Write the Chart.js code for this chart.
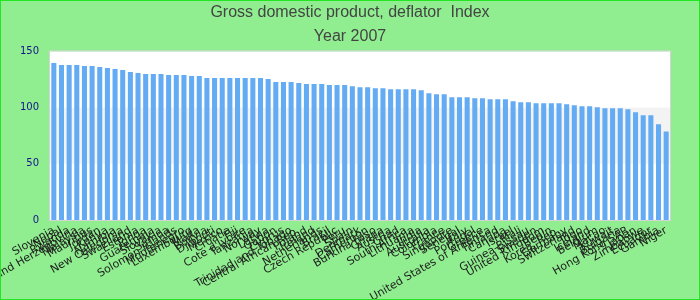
<!DOCTYPE html>
<html>
<head>
<meta charset="utf-8">
<script src="https://cdn.jsdelivr.net/npm/chart.js@4.4.1/dist/chart.umd.min.js"></script>
<style>
    html, body { margin: 0; padding: 0; }
    #frame {
        width: 700px;
        height: 300px;
        box-sizing: border-box;
        border: 1px solid #22e622;
        background: #90ee90;
    }
    canvas { display: block; }
</style>
</head>
<body>
<div id="frame">
    <canvas id="deflatorChart" width="698" height="298"></canvas>
</div>
<script>
// Chart titles
const TITLE = 'Gross domestic product, deflator  Index';
const SUBTITLE = 'Year 2007';

// Countries, sorted by index value
const countries = [
    'Slovenia', 'Nepal', 'Rwanda', 'Bosnia and Herzegovina', 'Malaysia', 'Mauritius',
    'Jordan', 'Kenya', 'Namibia', 'New Caledonia', 'Swaziland', 'Estonia',
    'Tonga', 'Guatemala', 'Slovakia', 'Samoa', 'Solomon Islands', 'Montenegro',
    'Luxembourg', 'Malta', 'Bolivia', 'Djibouti', 'Mexico', 'Croatia',
    'Fiji', "Cote d'Ivoire", 'Tanzania', 'Norway', 'Latvia', 'Gabon',
    'Cyprus', 'Trinidad and Tobago', 'Central African Rep.', 'Poland', 'Ireland', 'Netherlands',
    'Brazil', 'Czech Republic', 'Peru', 'Spain', 'Denmark', 'Cameroon',
    'Burkina Faso', 'Ghana', 'Austria', 'Chad', 'South Africa', 'Lithuania',
    'India', 'Australia', 'Colombia', 'France', 'Singapore', 'Senegal',
    'Italy', 'Portugal', 'Greece', 'United States of America', 'Finland', 'Canada',
    'Israel', 'Mali', 'Guinea-Bissau', 'Sweden', 'United Kingdom', 'Benin',
    'Korea, Rep.', 'Germany', 'Switzerland', 'Togo', 'Iceland', 'Belgium',
    'Macao', 'Kuwait', 'Bulgaria', 'Hong Kong SAR', 'Japan', 'Zimbabwe',
    'Ecuador', 'Gambia', 'Niger'
];

// Index values
const deflatorValues = [
    139.7, 137.9, 137.9, 137.9, 137.0, 137.0, 136.1, 135.2, 134.3, 133.4,
    131.6, 130.7, 129.9, 129.9, 129.9, 129.0, 129.0, 129.0, 128.1, 128.1,
    126.3, 126.3, 126.3, 126.3, 126.3, 126.3, 126.3, 126.3, 125.4, 122.7,
    122.7, 122.7, 121.8, 120.9, 120.9, 120.9, 120.0, 120.0, 120.0, 119.1,
    118.2, 118.2, 117.3, 117.3, 116.4, 116.4, 116.4, 116.4, 115.5, 112.8,
    111.9, 111.9, 109.3, 109.3, 109.3, 108.4, 108.4, 107.5, 107.5, 107.5,
    105.7, 104.8, 104.8, 103.9, 103.9, 103.9, 103.9, 103.0, 102.1, 101.2,
    101.2, 100.3, 99.4, 99.4, 99.4, 98.5, 95.8, 93.1, 93.1, 85.1,
    78.8
];

// Y axis range and the shaded band
const yMin = 0;
const yMax = 150;
const yStep = 50;
const shadedBand = [50, 100];

// White plot area with one grey band and a thin frame
const plotBackground = {
    id: 'plotBackground',
    beforeDatasetsDraw(chart) {
        const { ctx, chartArea: area, scales: { y } } = chart;
        ctx.save();
        ctx.fillStyle = '#ffffff';
        ctx.fillRect(area.left, area.top, area.width, area.height);

        const bandTop = y.getPixelForValue(shadedBand[1]);
        const bandBottom = y.getPixelForValue(shadedBand[0]);
        ctx.fillStyle = '#f3f3f3';
        ctx.fillRect(area.left, bandTop, area.width, bandBottom - bandTop);

        ctx.strokeStyle = '#d4d4d4';
        ctx.lineWidth = 1;
        ctx.strokeRect(area.left - 0.5, area.top - 0.5, area.width + 1, area.height + 1);
        ctx.restore();
    }
};

const titleFont = { family: 'Liberation Sans', size: 16, weight: 'normal' };
const yTickFont = { family: 'DejaVu Sans', size: 10 };
const xTickFont = { family: 'DejaVu Sans', size: 11 };

function initializeChart() {
    const ctx = document.getElementById('deflatorChart').getContext('2d');
    return new Chart(ctx, {
        type: 'bar',
        data: {
            labels: countries,
            datasets: [{
                data: deflatorValues,
                backgroundColor: '#63abf2',
                borderWidth: 0,
                barPercentage: 0.66,
                categoryPercentage: 1.0
            }]
        },
        options: {
            responsive: false,
            animation: false,
            devicePixelRatio: 1,
            layout: { padding: 0 },
            plugins: {
                legend: { display: false },
                tooltip: { enabled: false },
                title: {
                    display: true,
                    text: TITLE,
                    color: '#444444',
                    font: titleFont,
                    padding: { top: 2, bottom: 5 }
                },
                subtitle: {
                    display: true,
                    text: SUBTITLE,
                    color: '#444444',
                    font: titleFont,
                    padding: { top: 0, bottom: 5 }
                }
            },
            scales: {
                x: {
                    grid: { display: false, drawTicks: false },
                    border: { display: false },
                    ticks: {
                        autoSkip: false,
                        minRotation: 30,
                        maxRotation: 30,
                        color: '#1e1e1e',
                        font: xTickFont,
                        padding: 4
                    },
                    afterFit(scale) {
                        // keep the plot where the reference has it
                        scale.height = 79;
                        scale.paddingLeft = 0;
                        scale.paddingRight = 0;
                    }
                },
                y: {
                    min: yMin,
                    max: yMax,
                    grid: { display: false, drawTicks: false },
                    border: { display: false },
                    ticks: {
                        stepSize: yStep,
                        color: '#12128c',
                        font: yTickFont,
                        padding: 11
                    },
                    afterFit(scale) {
                        scale.width = 49;
                        scale.paddingTop = 0;
                        scale.paddingBottom = 0;
                    }
                },
                // empty right-hand axis, only reserves the margin so the titles stay centred
                yRight: {
                    position: 'right',
                    grid: { display: false, drawTicks: false },
                    border: { display: false },
                    ticks: { display: false },
                    afterFit(scale) {
                        scale.width = 29;
                        scale.paddingTop = 0;
                        scale.paddingBottom = 0;
                    }
                }
            }
        },
        plugins: [plotBackground]
    });
}

initializeChart();
</script>
</body>
</html>
